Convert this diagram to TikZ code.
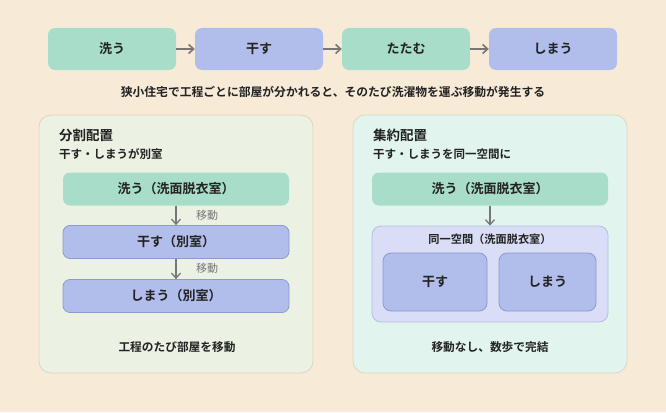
\documentclass[tikz,border=0pt]{standalone}
\usepackage{fontspec}
\setmainfont{Noto Sans CJK JP}
\newfontfamily\jpbold{Noto Sans CJK JP Bold}
\usetikzlibrary{arrows.meta}
\definecolor{bgcream}{HTML}{F7EBD8}
\definecolor{stepgreen}{HTML}{A8DEC9}
\definecolor{stepblue}{HTML}{B1BDEA}
\definecolor{blueedge}{HTML}{8E99D0}
\definecolor{panelL}{HTML}{EBF1E3}
\definecolor{panelR}{HTML}{E1F4EE}
\definecolor{paneledge}{HTML}{DDD6BE}
\definecolor{roomfill}{HTML}{D9DDF6}
\definecolor{roomedge}{HTML}{B6BDE6}
\definecolor{arrowgray}{HTML}{777777}
\definecolor{ink}{HTML}{222222}
\tikzset{
  flowbox/.style={rounded corners=7pt, minimum width=128pt, minimum height=42pt,
    inner sep=0pt, text=ink, font=\jpbold\fontsize{13}{15}\selectfont},
  greenbox/.style={flowbox, fill=stepgreen},
  bluebox/.style={flowbox, fill=stepblue},
  panel/.style={rounded corners=12pt, draw=paneledge, line width=0.8pt,
    minimum width=274pt, minimum height=258pt, inner sep=0pt},
  rowbox/.style={rounded corners=7pt, minimum width=226pt, minimum height=33pt,
    inner sep=0pt, text=ink, font=\jpbold\fontsize{13}{15}\selectfont},
  heading/.style={anchor=west, text=ink, inner sep=0pt, font=\jpbold\fontsize{13.5}{15}\selectfont},
  subhead/.style={anchor=west, text=ink, inner sep=0pt, font=\jpbold\fontsize{11.5}{14}\selectfont},
  note/.style={text=ink, inner sep=0pt, font=\jpbold\fontsize{11.7}{14}\selectfont},
  movelabel/.style={text=arrowgray, inner sep=0pt, font=\fontsize{11}{13}\selectfont},
  flowarrow/.style={draw=arrowgray, line width=1.6pt, -{Straight Barb[length=5pt,width=9pt]}},
  downarrow/.style={draw=arrowgray, line width=1.3pt, -{Straight Barb[length=5pt,width=9pt]}},
}
\begin{document}
\begin{tikzpicture}[x=1pt,y=-1pt]
\fill[bgcream] (0,0) rectangle (666,412);
\useasboundingbox (0,0) rectangle (666,412);

% top process flow
\node[greenbox] (wash)  at (112,49) {洗う};
\node[bluebox]  (dry)   at (259,49) {干す};
\node[greenbox] (fold)  at (406,49) {たたむ};
\node[bluebox]  (store) at (553,49) {しまう};
\draw[flowarrow] (wash) -- (dry);
\draw[flowarrow] (dry) -- (fold);
\draw[flowarrow] (fold) -- (store);
\node[note, font=\jpbold\fontsize{11.8}{14}\selectfont] (caption) at (333,92)
  {狭小住宅で工程ごとに部屋が分かれると、そのたび洗濯物を運ぶ移動が発生する};

% left panel: split layout
\node[panel, fill=panelL] (leftp) at (176,244) {};
\node[heading] (lhead) at (59,135) {分割配置};
\node[subhead] (lsub) at (59,154) {干す・しまうが別室};
\node[rowbox, fill=stepgreen] (lwash) at (176,189) {洗う（洗面脱衣室）};
\node[rowbox, fill=stepblue, draw=blueedge, line width=0.8pt] (ldry) at (176,242) {干す（別室）};
\node[rowbox, fill=stepblue, draw=blueedge, line width=0.8pt] (lstore) at (176,296) {しまう（別室）};
\draw[downarrow] (lwash) -- (ldry);
\draw[downarrow] (ldry) -- (lstore);
\node[movelabel] (lmove1) at (207,215) {移動};
\node[movelabel] (lmove2) at (207,268) {移動};
\node[note] (lnote) at (177,347) {工程のたび部屋を移動};

% right panel: consolidated layout
\node[panel, fill=panelR] (rightp) at (490,244) {};
\node[heading] (rhead) at (373,135) {集約配置};
\node[subhead] (rsub) at (373,154) {干す・しまうを同一空間に};
\node[rowbox, fill=stepgreen, minimum width=236pt] (rwash) at (490,189) {洗う（洗面脱衣室）};
\node[rounded corners=9pt, fill=roomfill, draw=roomedge, line width=0.8pt,
  minimum width=236pt, minimum height=96pt, inner sep=0pt] (room) at (490,274) {};
\node[note, font=\jpbold\fontsize{11.2}{13}\selectfont] (roomlabel) at (490,239) {同一空間（洗面脱衣室）};
\node[rounded corners=8pt, fill=stepblue, draw=blueedge, line width=0.8pt,
  minimum width=104pt, minimum height=58pt, inner sep=0pt, text=ink,
  font=\jpbold\fontsize{13}{15}\selectfont] (rdry) at (435,282) {干す};
\node[rounded corners=8pt, fill=stepblue, draw=blueedge, line width=0.8pt,
  minimum width=97pt, minimum height=58pt, inner sep=0pt, text=ink,
  font=\jpbold\fontsize{13}{15}\selectfont] (rstore) at (547.5,282) {しまう};
\draw[downarrow] (rwash) -- (room);
\node[note] (rnote) at (490,347) {移動なし、数歩で完結};
\end{tikzpicture}
\end{document}
